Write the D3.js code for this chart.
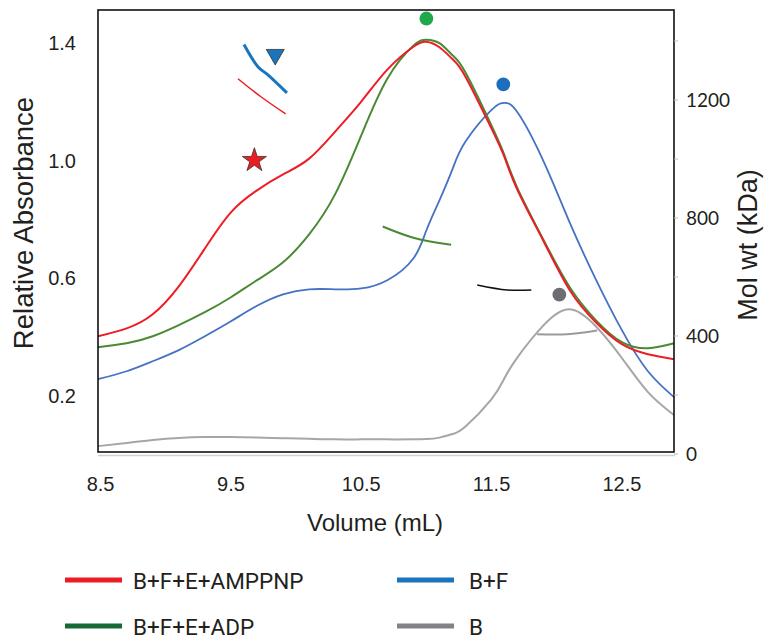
<!DOCTYPE html>
<html lang="en">
<head>
<meta charset="utf-8">
<title>SEC profiles</title>
<script src="https://d3js.org/d3.v7.min.js"></script>
<style>
  html, body { margin: 0; padding: 0; background: #fff; }
  body { font-family: "Liberation Sans", Arial, sans-serif; }
  svg text { fill: #231f20; }
</style>
</head>
<body>
<script>
// elution volume (mL) shared by all traces
var volume = [8.48, 8.7, 8.9, 9.1, 9.3, 9.5, 9.7, 9.9, 10.1, 10.3, 10.5, 10.7, 10.9, 11.0, 11.1, 11.2, 11.3, 11.5, 11.6, 11.7, 11.9, 12.1, 12.3, 12.5, 12.7, 12.9];

var ampRed   = [0.401, 0.428, 0.476, 0.571, 0.70, 0.823, 0.898, 0.952, 1.006, 1.098, 1.20, 1.309, 1.387, 1.404, 1.385, 1.345, 1.285, 1.108, 1.01, 0.898, 0.724, 0.558, 0.449, 0.374, 0.34, 0.323];
var adpGreen = [0.364, 0.377, 0.401, 0.439, 0.483, 0.534, 0.592, 0.653, 0.748, 0.885, 1.085, 1.278, 1.39, 1.411, 1.399, 1.358, 1.299, 1.118, 1.016, 0.904, 0.728, 0.568, 0.456, 0.381, 0.36, 0.377];
var bfBlue   = [0.255, 0.282, 0.316, 0.354, 0.401, 0.452, 0.505, 0.544, 0.561, 0.561, 0.564, 0.592, 0.666, 0.762, 0.864, 0.97, 1.064, 1.172, 1.196, 1.163, 0.996, 0.788, 0.595, 0.422, 0.282, 0.194];
var bGray    = [0.027, 0.038, 0.048, 0.055, 0.058, 0.058, 0.056, 0.054, 0.052, 0.05, 0.05, 0.05, 0.05, 0.051, 0.056, 0.068, 0.094, 0.187, 0.259, 0.33, 0.439, 0.493, 0.435, 0.327, 0.211, 0.133];

// molecular weight fits across each peak (kDa, right axis)
var mwBlueX  = [9.6, 9.707, 9.784, 9.93];
var mwBlueY  = [1388, 1313, 1285, 1224];
var mwRedX   = [9.554, 9.73, 9.92];
var mwRedY   = [1272, 1211, 1153];
var mwGreenX = [10.665, 10.9, 11.19];
var mwGreenY = [771, 733, 709];
var mwBlackX = [11.39, 11.62, 11.805];
var mwBlackY = [573, 556, 556];
var mwGrayX  = [11.85, 12.08, 12.31];
var mwGrayY  = [406, 406, 419];

// peak markers (volume, absorbance)
var markerX = [9.68, 9.84, 11.0, 11.59, 12.02];
var markerY = [1.0, 1.36, 1.483, 1.259, 0.543];
var markerKind = ["star", "triangle", "circle", "circle", "circle"];
var markerFill = ["#ed1c24", "#1b75bc", "#20a84a", "#1b6fbd", "#6d6e71"];

var xTicks = [8.5, 9.5, 10.5, 11.5, 12.5];
var yTicks = [0.2, 0.6, 1.0, 1.4];
var mwTicks = [0, 200, 400, 600, 800, 1000, 1200, 1400];
var mwLabels = [0, 400, 800, 1200];

var legendNames = ["B+F+E+AMPPNP", "B+F+E+ADP", "B+F", "B"];
var legendColors = ["#ed1c24", "#176a38", "#1b75bc", "#808285"];

var W = 764, H = 639;
var pL = 98, pR = 674, pT = 10, pB = 452;

var svg = d3.select("body").append("svg")
  .attr("width", W).attr("height", H);

var x = d3.scaleLinear().domain([8.48, 12.9]).range([pL, pR]);
var y = d3.scaleLinear().domain([0.007, 1.512]).range([pB, pT]);
var yMw = d3.scaleLinear().domain([6.8, 1505]).range([pB, pT]);

// light grey baseline under the frame
svg.append("line")
  .attr("x1", pL).attr("x2", pR + 1)
  .attr("y1", pB + 3.5).attr("y2", pB + 3.5)
  .attr("stroke", "#d0d0d0").attr("stroke-width", 1.5);

// traces
var line = d3.line().curve(d3.curveNatural)
  .x(function (d) { return x(d[0]); })
  .y(function (d) { return y(d[1]); });

var traces = [
  { v: bGray, c: "#a6a6a6", w: 2 },
  { v: bfBlue, c: "#4472c4", w: 1.8 },
  { v: adpGreen, c: "#4a8a35", w: 2 },
  { v: ampRed, c: "#ee1c25", w: 2 }
];
traces.forEach(function (t) {
  svg.append("path")
    .datum(d3.zip(volume, t.v))
    .attr("d", line)
    .attr("fill", "none")
    .attr("stroke", t.c)
    .attr("stroke-width", t.w);
});

// mol wt segments
var mwLine = d3.line().curve(d3.curveCatmullRom.alpha(0.5))
  .x(function (d) { return x(d[0]); })
  .y(function (d) { return yMw(d[1]); });

var segs = [
  { xs: mwBlueX, ys: mwBlueY, c: "#1b75bc", w: 3 },
  { xs: mwRedX, ys: mwRedY, c: "#ee1c25", w: 1.5 },
  { xs: mwGreenX, ys: mwGreenY, c: "#4a8a35", w: 2 },
  { xs: mwBlackX, ys: mwBlackY, c: "#111", w: 1.5 },
  { xs: mwGrayX, ys: mwGrayY, c: "#9a9a9a", w: 2 }
];
segs.forEach(function (s) {
  svg.append("path")
    .datum(d3.zip(s.xs, s.ys))
    .attr("d", mwLine)
    .attr("fill", "none")
    .attr("stroke", s.c)
    .attr("stroke-width", s.w);
});

// markers
var sym = { star: d3.symbolStar, triangle: d3.symbolTriangle, circle: d3.symbolCircle };
var symSize = { star: 180, triangle: 140, circle: 150 };
markerX.forEach(function (mx, i) {
  var k = markerKind[i];
  var rot = k === "triangle" ? " rotate(180)" : "";
  svg.append("path")
    .attr("d", d3.symbol().type(sym[k]).size(symSize[k])())
    .attr("transform", "translate(" + x(mx) + "," + y(markerY[i]) + ")" + rot)
    .attr("fill", markerFill[i])
    .attr("stroke", k === "circle" ? "none" : "#333")
    .attr("stroke-width", 0.8);
});

// frame
svg.append("rect")
  .attr("x", pL).attr("y", pT)
  .attr("width", pR - pL).attr("height", pB - pT)
  .attr("fill", "none").attr("stroke", "#111").attr("stroke-width", 1.6);

// left tick labels (no tick marks)
svg.selectAll(".yl").data(yTicks).enter().append("text")
  .attr("x", 76).attr("y", function (d) { return y(d); })
  .attr("dy", "0.36em")
  .attr("text-anchor", "end")
  .attr("font-size", 20)
  .text(function (d) { return d.toFixed(1); });

// bottom tick labels
svg.selectAll(".xl").data(xTicks).enter().append("text")
  .attr("x", function (d) { return x(d); }).attr("y", 491)
  .attr("text-anchor", "middle")
  .attr("font-size", 20)
  .text(function (d) { return d.toFixed(1); });

// right axis ticks
svg.selectAll(".mt").data(mwTicks).enter().append("line")
  .attr("x1", pR).attr("x2", pR + 4)
  .attr("y1", function (d) { return yMw(d); })
  .attr("y2", function (d) { return yMw(d); })
  .attr("stroke", "#bbb").attr("stroke-width", 1);

svg.selectAll(".ml").data(mwLabels).enter().append("text")
  .attr("x", 686).attr("y", function (d) { return yMw(d); })
  .attr("dy", "0.36em")
  .attr("font-family", "Lato, 'Open Sans', sans-serif")
  .attr("font-size", 19)
  .text(function (d) { return d; });

// axis titles
svg.append("text")
  .attr("transform", "translate(33,223) rotate(-90)")
  .attr("text-anchor", "middle")
  .attr("font-size", 27.5)
  .text("Relative Absorbance");

svg.append("text")
  .attr("transform", "translate(757,245) rotate(-90)")
  .attr("text-anchor", "middle")
  .attr("font-size", 27)
  .text("Mol wt (kDa)");

svg.append("text")
  .attr("x", 375).attr("y", 531)
  .attr("text-anchor", "middle")
  .attr("font-size", 24)
  .text("Volume (mL)");

// legend
var legX = [65, 65, 397, 397];
var legY = [580, 626, 580, 626];
legendNames.forEach(function (n, i) {
  svg.append("line")
    .attr("x1", legX[i]).attr("x2", legX[i] + 57)
    .attr("y1", legY[i]).attr("y2", legY[i])
    .attr("stroke", legendColors[i]).attr("stroke-width", 5);
  svg.append("text")
    .attr("x", legX[i] + (i < 2 ? 68 : 72)).attr("y", legY[i] + 9)
    .attr("font-family", "Roboto, sans-serif")
    .attr("font-size", 22.5)
    .text(n);
});
</script>
</body>
</html>
